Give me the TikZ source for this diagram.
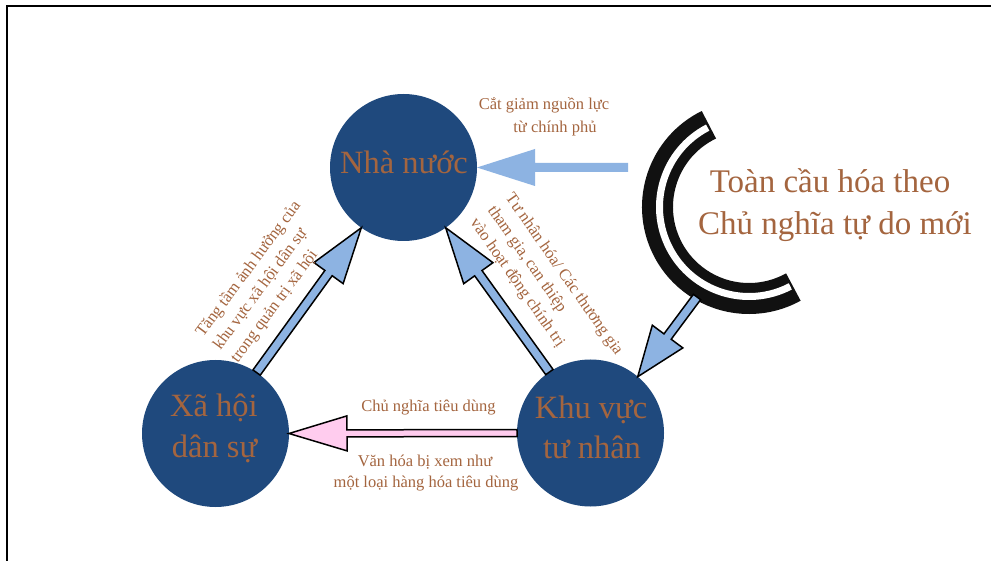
\documentclass[tikz,border=0pt]{standalone}
\usepackage{fontspec}
\setmainfont{Liberation Serif}
\usetikzlibrary{calc}
\definecolor{navy}{HTML}{1F497D}
\definecolor{brownt}{HTML}{A4653F}
\definecolor{lblue}{HTML}{8DB3E2}
\definecolor{lpink}{HTML}{FFCCEE}
\definecolor{cblack}{HTML}{111111}
% #1 style, #2 from, #3 to, #4 shaft half width, #5 head half width, #6 head length
\newcommand\blockarrow[6]{%
  \coordinate (tmpH) at ($(#3)!#6!(#2)$);
  \draw[#1] ($(#2)!#4!90:(#3)$) -- ($(tmpH)!#4!90:(#3)$) -- ($(tmpH)!#5!90:(#3)$)
    -- (#3) -- ($(tmpH)!#5!-90:(#3)$) -- ($(tmpH)!#4!-90:(#3)$)
    -- ($(#2)!#4!-90:(#3)$) -- cycle;}
\begin{document}
\begin{tikzpicture}[x=1pt,y=-1pt,
  circ/.style={circle,fill=navy,draw=none,minimum size=147pt,inner sep=0pt,outer sep=0pt},
  bigtxt/.style={text=brownt,inner sep=0pt,anchor=base,font=\fontsize{32.5}{40}\selectfont},
  gtxt/.style={text=brownt,inner sep=0pt,anchor=base,font=\fontsize{33}{42}\selectfont},
  smalltxt/.style={text=brownt,inner sep=0pt,anchor=base,font=\fontsize{16.5}{21}\selectfont},
  rottxt/.style={text=brownt,inner sep=0pt,align=left,font=\fontsize{16.5}{21.5}\selectfont},
  bluearrow/.style={fill=lblue,draw=black,line width=1.5pt,line join=miter},
  pinkarrow/.style={fill=lpink,draw=black,line width=1.5pt,line join=miter},
  plainarrow/.style={fill=lblue,draw=none}]
\useasboundingbox (0,0) rectangle (991,561);
\fill[white] (0,0) rectangle (991,561);
% frame
\draw[line width=2pt] (7,570) -- (7,6) -- (995,6);

% circles
\node[circ] (nn) at (403.5,167.5) {};
\node[circ] (xh) at (215.5,433.5) {};
\node[circ] (kv) at (590.5,433) {};

% globalisation arc
\coordinate (gc) at (749,207);
\draw[cblack,line width=31pt] ($(gc)+(116:91.5pt)$) arc[start angle=116,end angle=299,radius=91.5pt];
\draw[white,line width=7pt] ($(gc)+(117.5:89.5pt)$) arc[start angle=117.5,end angle=297.5,radius=89.5pt];

% arrows
\coordinate (ta) at (628,167.5);
\coordinate (dc) at (697,297);
\blockarrow{plainarrow}{ta}{nn.east}{4.5pt}{18.5pt}{58pt}
\blockarrow{bluearrow}{dc}{kv.50}{4.5pt}{19pt}{50pt}
\blockarrow{bluearrow}{xh.56}{nn.235}{4.5pt}{18pt}{56pt}
\blockarrow{bluearrow}{kv.124}{nn.305}{4.5pt}{18pt}{56pt}
\blockarrow{pinkarrow}{kv.west}{xh.east}{3.5pt}{17.5pt}{58pt}

% circle texts
\node[bigtxt] (nnt) at (404,174) {Nhà nước};
\node[bigtxt] (xht1) at (214,417) {Xã hội};
\node[bigtxt] (xht2) at (214.5,457) {dân sự};
\node[bigtxt] (kvt1) at (591,418) {Khu vực};
\node[bigtxt] (kvt2) at (592,458) {tư nhân};

% globalisation text
\node[gtxt] (tc1) at (830,193) {Toàn cầu hóa theo};
\node[gtxt] (tc2) at (835,235) {Chủ nghĩa tự do mới};

% small labels
\node[smalltxt] (cg1) at (544,110) {Cắt giảm nguồn lực};
\node[smalltxt] (cg2) at (555,133) {từ chính phủ};
\node[smalltxt] (cn) at (428.5,411.5) {Chủ nghĩa tiêu dùng};
\node[smalltxt] (vh1) at (425,466) {Văn hóa bị xem như};
\node[smalltxt] (vh2) at (426,487) {một loại hàng hóa tiêu dùng};

% rotated labels
\node[rottxt,rotate=53.5] (lt) at (266,282) {Tăng tầm ảnh hưởng của\\khu vực xã hội dân sự\\trong quản trị xã hội};
\node[rottxt,rotate=-55] (rt) at (546,287) {Tư nhân hóa/ Các thương gia\\tham gia, can thiệp\\vào hoạt động chính trị};
\end{tikzpicture}
\end{document}
